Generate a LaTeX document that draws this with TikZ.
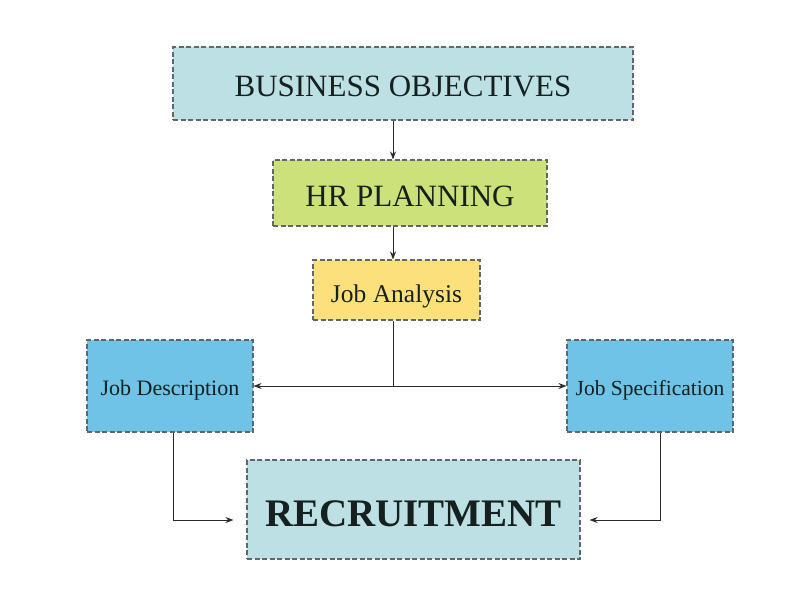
\documentclass[tikz,border=0pt]{standalone}
\usepackage{fontspec}
\setmainfont{Liberation Serif}
\usetikzlibrary{arrows.meta}
\definecolor{boxblue}{HTML}{BCE0E4}
\definecolor{boxgreen}{HTML}{CCE17A}
\definecolor{boxyellow}{HTML}{FBE07C}
\definecolor{boxsky}{HTML}{6EC3E6}
\definecolor{edgegray}{HTML}{5E6868}
\definecolor{linegray}{HTML}{2A2A2A}
\definecolor{textdark}{HTML}{15201F}
\tikzset{
  box/.style={draw=edgegray, line width=1.1pt, dash pattern=on 5pt off 2.5pt,
    rectangle, inner sep=0pt, text=textdark, align=center, text depth=0pt},
  arr/.style={draw=linegray, line width=1pt, -{Stealth[length=8pt,width=6pt]}},
  ln/.style={draw=linegray, line width=1pt}
}
\begin{document}
\begin{tikzpicture}[x=1pt,y=-1pt]
\useasboundingbox (0,0) rectangle (800,600);
\fill[white] (0,0) rectangle (800,600);
\node[box, fill=boxblue, minimum width=460pt, minimum height=73pt, text height=25pt,
  font=\fontsize{31}{34}\selectfont] (BO) at (403,83.5) {BUSINESS OBJECTIVES};
\node[box, fill=boxgreen, minimum width=274pt, minimum height=66pt, text height=27pt,
  font=\fontsize{31}{34}\selectfont] (HR) at (410,193) {HR PLANNING};
\node[box, fill=boxyellow, minimum width=167pt, minimum height=60pt, text height=24pt,
  font=\fontsize{25.5}{28}\selectfont] (JA) at (396.5,290) {Job Analysis};
\node[box, fill=boxsky, minimum width=166pt, minimum height=92pt, text height=19.5pt,
  font=\fontsize{22}{25}\selectfont] (JD) at (170,386) {Job Description};
\node[box, fill=boxsky, minimum width=166pt, minimum height=92pt, text height=19.5pt,
  font=\fontsize{21.5}{25}\selectfont] (JS) at (650,386) {Job Specification};
\node[box, fill=boxblue, minimum width=333pt, minimum height=99pt, text height=33pt,
  font=\fontsize{39}{42}\selectfont\bfseries] (RE) at (413.5,509.5) {RECRUITMENT};
\coordinate (sp) at (393,386);
\coordinate (jl) at (173,520);
\coordinate (jr) at (660,520);
\draw[arr] (BO.south -| sp) -- (HR.north -| sp);
\draw[arr] (HR.south -| sp) -- (JA.north -| sp);
\draw[ln] (JA.south -| sp) -- (sp);
\draw[arr] (sp) -- (JD.east |- sp);
\draw[arr] (sp) -- (JS.west |- sp);
\draw[arr, shorten >=13pt] (JD.south -| jl) -- (jl) -- (RE.west |- jl);
\draw[arr, shorten >=9pt] (JS.south -| jr) -- (jr) -- (RE.east |- jr);
\end{tikzpicture}
\end{document}
